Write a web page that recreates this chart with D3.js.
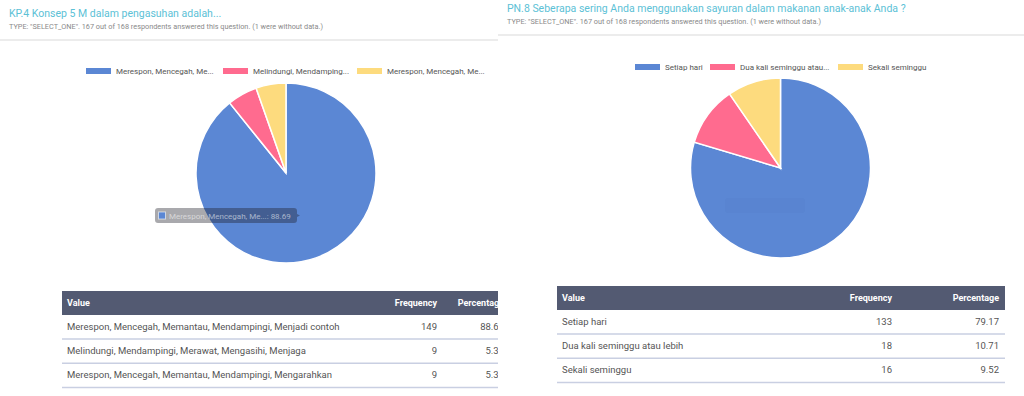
<!DOCTYPE html>
<html>
<head>
<meta charset="utf-8">
<script src="https://cdn.jsdelivr.net/npm/d3@7"></script>
<style>
  body { margin: 0; background: #fff; }
  svg { display: block; font-family: Roboto, "Noto Sans", sans-serif; }
</style>
</head>
<body>
<div id="chart"></div>
<script>
// left question
var leftTitle = "KP.4 Konsep 5 M dalam pengasuhan adalah...";
var leftValues = ["Merespon, Mencegah, Memantau, Mendampingi, Menjadi contoh",
                  "Melindungi, Mendampingi, Merawat, Mengasihi, Menjaga",
                  "Merespon, Mencegah, Memantau, Mendampingi, Mengarahkan"];
var leftLegend = ["Merespon, Mencegah, Me...", "Melindungi, Mendamping...", "Merespon, Mencegah, Me..."];
var leftFreq = [149, 9, 9];
var leftPct = ["88.69", "5.36", "5.36"];

// right question
var rightTitle = "PN.8 Seberapa sering Anda menggunakan sayuran dalam makanan anak-anak Anda ?";
var rightValues = ["Setiap hari", "Dua kali seminggu atau lebih", "Sekali seminggu"];
var rightLegend = ["Setiap hari", "Dua kali seminggu atau...", "Sekali seminggu"];
var rightFreq = [133, 18, 16];
var rightPct = ["79.17", "10.71", "9.52"];

var subtitle = 'TYPE: "SELECT_ONE". 167 out of 168 respondents answered this question. (1 were without data.)';
var colors = ["#5b87d4", "#ff6b8f", "#fddb7e"];

var svg = d3.select("#chart").append("svg")
    .attr("width", 1024)
    .attr("height", 396);

svg.append("defs").append("clipPath").attr("id", "leftclip")
  .append("rect").attr("x", 0).attr("y", 0).attr("width", 498).attr("height", 396);

function panel(g, o) {
  // header
  g.append("text")
    .attr("x", o.x0 + 9).attr("y", o.ty)
    .attr("fill", "#5cc1d6").style("font-size", "10.5px")
    .text(o.title);
  g.append("text")
    .attr("x", o.x0 + 9).attr("y", o.ty + 12)
    .attr("fill", "#8a8a8a").style("font-size", "7.3px")
    .text(subtitle);
  g.append("line")
    .attr("x1", o.x0).attr("x2", o.x1)
    .attr("y1", o.ty + 23).attr("y2", o.ty + 23)
    .attr("stroke", "#ececec").attr("stroke-width", 2);

  // legend
  var leg = g.selectAll(".leg").data(o.legend).enter().append("g")
    .attr("transform", function(d, i) { return "translate(" + o.legX[i] + "," + o.legY + ")"; });
  leg.append("rect")
    .attr("x", 0).attr("y", -3).attr("width", 25).attr("height", 6)
    .attr("fill", function(d, i) { return colors[i]; });
  leg.append("text")
    .attr("x", 30).attr("y", 3)
    .attr("fill", "#555").style("font-size", "8px")
    .text(function(d) { return d; });

  // pie
  var pie = d3.pie().sort(null).value(function(d) { return d; });
  var arc = d3.arc().innerRadius(0).outerRadius(90);
  g.append("g")
    .attr("transform", "translate(" + o.cx + "," + o.cy + ")")
    .selectAll("path")
    .data(pie(o.freq))
    .enter().append("path")
      .attr("d", arc)
      .attr("fill", function(d, i) { return colors[i]; })
      .attr("stroke", "#fff")
      .attr("stroke-width", 1.5);

  // table
  var t = o.table;
  g.append("rect")
    .attr("x", t.x).attr("y", t.y).attr("width", t.w).attr("height", 24)
    .attr("fill", "#535a72");
  var hdr = g.append("g").style("font-size", "9px").style("font-weight", 700).attr("fill", "#fff");
  hdr.append("text").attr("x", t.x + 5).attr("y", t.y + 15).text("Value");
  hdr.append("text").attr("x", t.freqX).attr("y", t.y + 15).attr("text-anchor", "end").text("Frequency");
  hdr.append("text").attr("x", t.pctX).attr("y", t.y + 15).attr("text-anchor", "end").text("Percentage");

  var rows = g.selectAll(".row").data(o.values).enter().append("g")
    .attr("transform", function(d, i) { return "translate(0," + (t.y + 24 + i * 24.2) + ")"; })
    .style("font-size", "9.5px").attr("fill", "#555");
  rows.append("text").attr("x", t.x + 5).attr("y", 15).text(function(d) { return d; });
  rows.append("text").attr("x", t.freqX).attr("y", 15).attr("text-anchor", "end")
    .text(function(d, i) { return o.freq[i]; });
  rows.append("text").attr("x", t.pctX).attr("y", 15).attr("text-anchor", "end")
    .text(function(d, i) { return o.pct[i]; });
  rows.append("line")
    .attr("x1", t.x).attr("x2", t.x + t.w)
    .attr("y1", 24).attr("y2", 24)
    .attr("stroke", "#c9cfe2").attr("stroke-width", 1.5);
}

var left = svg.append("g").attr("clip-path", "url(#leftclip)");
panel(left, {
  x0: 0, x1: 498, ty: 17, title: leftTitle,
  legend: leftLegend, legX: [86, 223, 357], legY: 71,
  cx: 286, cy: 173, freq: leftFreq, values: leftValues, pct: leftPct,
  table: {x: 62, y: 291, w: 460, freqX: 437, pctX: 504}
});

// hover tooltip left in the screenshot
var tip = left.append("g").attr("transform", "translate(155,208)");
tip.append("path")
  .attr("d", "M3,0 H139 Q142,0 142,3 V6 L145,7.5 L142,9 V12 Q142,15 139,15 H3 Q0,15 0,12 V3 Q0,0 3,0 Z")
  .attr("fill", "rgba(30,30,40,0.38)");
tip.append("rect").attr("x", 3.5).attr("y", 4).attr("width", 7).attr("height", 7)
  .attr("fill", colors[0]).attr("stroke", "rgba(255,255,255,0.6)").attr("stroke-width", 1);
tip.append("text").attr("x", 14).attr("y", 10.5)
  .style("font-size", "8px").attr("fill", "rgba(255,255,255,0.55)")
  .text(leftLegend[0] + ": " + leftPct[0]);

var right = svg.append("g");
panel(right, {
  x0: 498, x1: 1024, ty: 12, title: rightTitle,
  legend: rightLegend, legX: [635, 710, 838], legY: 67,
  cx: 780.5, cy: 168, freq: rightFreq, values: rightValues, pct: rightPct,
  table: {x: 557, y: 286, w: 448, freqX: 892, pctX: 999}
});

// faded tooltip ghost on right pie
right.append("rect")
  .attr("x", 725).attr("y", 198).attr("width", 80).attr("height", 15).attr("rx", 3)
  .attr("fill", "rgba(40,60,120,0.03)");
</script>
</body>
</html>
